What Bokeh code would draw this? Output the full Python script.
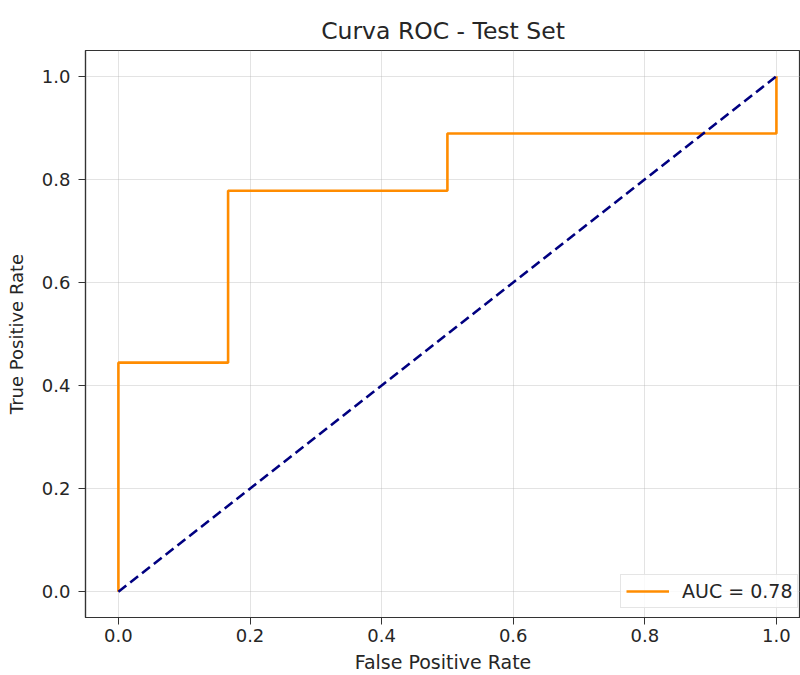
from bokeh.plotting import figure
from bokeh.models import Range1d, FixedTicker, PrintfTickFormatter, Legend, LegendItem
from bokeh.embed import file_html
from bokeh.resources import INLINE

# ROC curve values
fpr = [0.0, 0.0, 0.1667, 0.1667, 0.5, 0.5, 1.0, 1.0]
tpr = [0.0, 0.4444, 0.4444, 0.7778, 0.7778, 0.8889, 0.8889, 1.0]
diag_x = [0.0, 1.0]
diag_y = [0.0, 1.0]
auc_label = "AUC = 0.78"
ticks = [0.0, 0.2, 0.4, 0.6, 0.8, 1.0]

FONT = "DejaVu Sans"
TXT = "#262626"

p = figure(width=800, height=675, output_backend="svg", toolbar_location=None,
           x_range=Range1d(-0.05, 1.0366), y_range=Range1d(-0.05, 1.05),
           title="Curva ROC - Test Set",
           x_axis_label="False Positive Rate", y_axis_label="True Positive Rate")

p.min_border_left = 85
p.min_border_right = 0
p.min_border_top = 50
p.min_border_bottom = 58

p.title.align = "center"
p.title.text_font = FONT
p.title.text_font_size = "23.5px"
p.title.text_font_style = "normal"
p.title.text_color = TXT
p.title.offset = 0
p.title.standoff = 12

p.outline_line_color = "#333333"
p.outline_line_width = 1.2
p.background_fill_color = "white"
p.border_fill_color = "white"

for ax in (p.xaxis[0], p.yaxis[0]):
    ax.ticker = FixedTicker(ticks=ticks)
    ax.formatter = PrintfTickFormatter(format="%.1f")
    ax.major_label_text_font = FONT
    ax.major_label_text_font_size = "18px"
    ax.major_label_text_color = TXT
    ax.axis_label_text_font = FONT
    ax.axis_label_text_font_style = "normal"
    ax.axis_label_text_color = TXT
    ax.major_tick_out = 7
    ax.major_tick_in = 0
    ax.minor_tick_out = 0
    ax.minor_tick_in = 0
    ax.major_tick_line_color = "#333333"
    ax.axis_line_color = "#333333"
    ax.axis_line_width = 1.2

p.xaxis[0].axis_label_text_font_size = "19px"
p.xaxis[0].major_label_standoff = 4
p.xaxis[0].axis_label_standoff = 6
p.yaxis[0].axis_label_text_font_size = "18px"
p.yaxis[0].major_label_standoff = 8
p.yaxis[0].axis_label_standoff = 12

p.xgrid.grid_line_color = "#b0b0b0"
p.ygrid.grid_line_color = "#b0b0b0"
p.xgrid.grid_line_alpha = 0.35
p.ygrid.grid_line_alpha = 0.35

roc = p.line(fpr, tpr, line_color="#FF8C00", line_width=2.6)
p.line(diag_x, diag_y, line_color="#000080", line_width=2.6, line_dash="10 5")

legend = Legend(items=[LegendItem(label=auc_label, renderers=[roc])],
                location=(535, 9))
legend.label_text_font = FONT
legend.label_text_font_size = "19px"
legend.label_text_color = TXT
legend.border_line_color = "#cccccc"
legend.border_line_width = 1
legend.background_fill_alpha = 0.8
legend.glyph_width = 43
legend.label_standoff = 13
legend.padding = 5
legend.margin = 0
p.add_layout(legend)

open("out.html", "w").write(file_html(p, INLINE))
